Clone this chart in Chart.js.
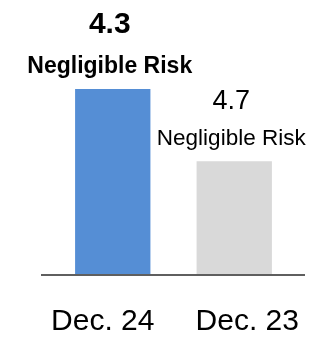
<!DOCTYPE html>
<html>
<head>
<meta charset="utf-8">
<script src="https://cdn.jsdelivr.net/npm/chart.js@4"></script>
<style>
  html, body { margin: 0; padding: 0; background: #fff; }
  #wrap { width: 311px; height: 337px; }
</style>
</head>
<body>
<div id="wrap"><canvas id="chart"></canvas></div>
<script>
// periods shown, newest first
const periods = ['Dec. 24', 'Dec. 23'];
// risk scores printed over each bar
const scores = ['4.3', '4.7'];
const riskLevels = ['Negligible Risk', 'Negligible Risk'];
// relative bar heights as drawn (tallest = 100)
const barHeights = [100, 61];
const barColors = ['#558ed5', '#d9d9d9'];

const FONT = '"Liberation Sans", Arial, Helvetica, sans-serif';

// text above the bars + the baseline + period labels
const labelsPlugin = {
  id: 'labels',
  afterDatasetsDraw(chart) {
    const ctx = chart.ctx;
    const area = chart.chartArea;
    const bars = chart.getDatasetMeta(0).data;

    ctx.save();
    // baseline
    ctx.strokeStyle = '#5f5f5f';
    ctx.lineWidth = 2;
    ctx.beginPath();
    ctx.moveTo(41, area.bottom + 1);
    ctx.lineTo(305, area.bottom + 1);
    ctx.stroke();

    ctx.fillStyle = '#000';
    ctx.textAlign = 'center';
    ctx.textBaseline = 'alphabetic';
    bars.forEach((bar, i) => {
      const bold = i === 0 ? 'bold ' : '';
      const x = bar.x - 3;
      ctx.font = bold + (i === 0 ? '30px ' : '27px ') + FONT;
      ctx.fillText(scores[i], x, bar.y - (i === 0 ? 56 : 52));
      ctx.font = bold + (i === 0 ? '23px ' : '22.5px ') + FONT;
      ctx.fillText(riskLevels[i], x, bar.y - 16);
    });

    // period labels under the axis
    ctx.font = '30px ' + FONT;
    const shift = [-10, 13];
    bars.forEach((bar, i) => {
      ctx.fillText(periods[i], bar.x + shift[i], 330);
    });
    ctx.restore();
  }
};

new Chart(document.getElementById('chart'), {
  type: 'bar',
  data: {
    labels: periods,
    datasets: [{
      data: barHeights,
      backgroundColor: barColors,
      borderWidth: 0,
      categoryPercentage: 1,
      barPercentage: 0.62
    }]
  },
  options: {
    responsive: true,
    maintainAspectRatio: false,
    animation: false,
    layout: { padding: { left: 52, right: 16, top: 89, bottom: 63 } },
    plugins: { legend: { display: false }, tooltip: { enabled: false } },
    scales: {
      x: { display: false },
      y: { display: false, min: 0, max: 100 }
    }
  },
  plugins: [labelsPlugin]
});
</script>
</body>
</html>
